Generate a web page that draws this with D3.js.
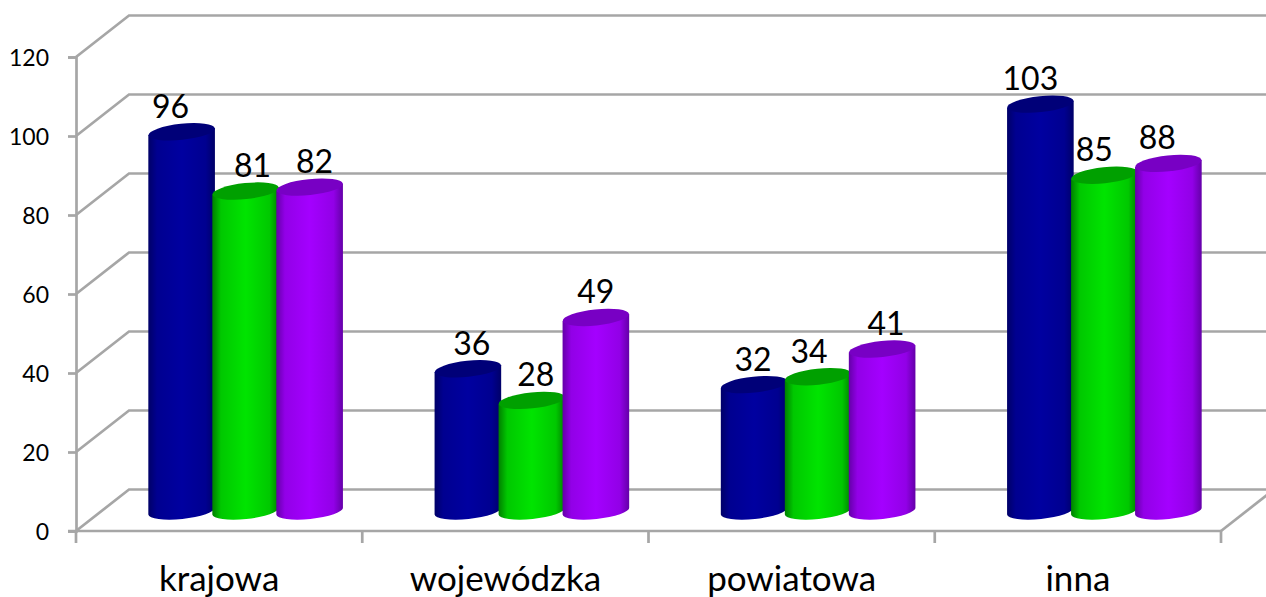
<!DOCTYPE html>
<meta charset="utf-8">
<title>Wykres</title>
<head>
  <script src="https://d3js.org/d3.v7.min.js"></script>
  <style>
    body { margin: 0; background: #fff; }
    svg { display: block; }
    text { font-family: Lato, "Open Sans", sans-serif; fill: #000; }
  </style>
</head>
<body>
  <div id="chart"></div>
</body>
<script>
    // values
    const categories = ["krajowa", "wojewódzka", "powiatowa", "inna"];
    const seriesNames = ["a", "b", "c"];
    const seriesA = [96, 36, 32, 103];
    const seriesB = [81, 28, 34, 85];
    const seriesC = [82, 49, 41, 88];
    const yTicks = [0, 20, 40, 60, 80, 100, 120];

    // colours per series: edge, body, top cap
    const edgeColors = ["#000068", "#008000", "#6400a8"];
    const bodyColors = ["#0000a0", "#00e400", "#a400ff"];
    const capColors = ["#000078", "#00a000", "#7800c4"];

    // data labels were hand placed in the original, horizontal nudge in px
    const labelNudge = [
      [-11, 4, -1, -10],
      [7, 4, -9, -10],
      [5, 0, 4, -11]
    ];

    const width = 1266, height = 597;
    const depthX = 53, depthY = 41.5;   // back wall offset of the fake 3d box
    const barLift = 20;                 // bars stand about halfway into the box
    const rx = 33.3, ry = 8, tilt = -6;
    const gridColor = "#a6a6a6";
    const gridWidth = 2.7;

    const svg = d3.select("#chart").append("svg")
        .attr("width", width)
        .attr("height", height);

    const x = d3.scaleBand().domain(categories).range([76, 1221]);
    const y = d3.scaleLinear().domain([0, 120]).range([531, 57]);
    const inner = d3.scaleBand().domain(seriesNames).range([-96, 96]);

    // gradients for the cylinder sides
    const defs = svg.append("defs");
    seriesNames.forEach(function(s, i) {
      const g = defs.append("linearGradient").attr("id", "body-" + s);
      const mix = d3.interpolateRgb(edgeColors[i], bodyColors[i])(0.72);
      [[0, edgeColors[i]], [0.13, mix], [0.5, bodyColors[i]], [0.86, mix], [1, edgeColors[i]]].forEach(function(st) {
        g.append("stop").attr("offset", st[0]).attr("stop-color", st[1]);
      });
    });

    // grid: front edge to back wall, then along the wall
    const grid = svg.append("g")
        .attr("fill", "none")
        .attr("stroke", gridColor)
        .attr("stroke-width", gridWidth);
    grid.selectAll("path.wall")
      .data(yTicks)
      .enter().append("path")
        .attr("class", "wall")
        .attr("d", function(d) {
          return d3.line()([
            [x.range()[0], y(d)],
            [x.range()[0] + depthX, y(d) - depthY],
            [width, y(d) - depthY]
          ]);
        });
    grid.append("path")
        .attr("d", d3.line()([
          [x.range()[1], y(0)],
          [x.range()[1] + depthX, y(0) - depthY]
        ]));

    // y axis
    const yAxis = svg.append("g")
        .attr("transform", "translate(" + x.range()[0] + ",0)")
        .call(d3.axisLeft(y).tickValues(yTicks).tickSize(8).tickPadding(19));
    yAxis.selectAll("line, path").attr("stroke", gridColor).attr("stroke-width", gridWidth);
    yAxis.selectAll("text").attr("font-size", 23).attr("dy", "0.36em");

    // x axis, the ticks sit between the categories
    const xAxis = svg.append("g")
        .attr("transform", "translate(0," + y(0) + ")")
        .call(d3.axisBottom(x).tickSize(0).tickPadding(35));
    xAxis.select("path").remove();
    xAxis.selectAll("text").attr("font-size", 35).attr("dy", "0.71em");
    xAxis.selectAll("line.sep")
      .data(categories.map(function(c) { return x(c); }).concat(x.range()[1]))
      .enter().append("line")
        .attr("class", "sep")
        .attr("x1", function(d) { return d; })
        .attr("x2", function(d) { return d; })
        .attr("y1", 0)
        .attr("y2", 12)
        .attr("stroke", gridColor)
        .attr("stroke-width", gridWidth);
    xAxis.append("line")
        .attr("x1", x.range()[0] - 8)
        .attr("x2", x.range()[1])
        .attr("stroke", gridColor)
        .attr("stroke-width", gridWidth);

    const barX = function(c, s) { return x(c) + x.bandwidth() / 2 + depthX / 2 + inner(s) + inner.bandwidth() / 2; };
    const barY = function(v) { return y(v) - barLift; };
    const dyTilt = rx * Math.sin(-tilt * Math.PI / 180);

    const allSeries = [seriesA, seriesB, seriesC];
    const bars = svg.append("g");
    allSeries.forEach(function(values, si) {
      const s = seriesNames[si];
      const group = bars.append("g");
      group.selectAll("path.side")
        .data(values)
        .enter().append("path")
          .attr("class", "side")
          .attr("fill", "url(#body-" + s + ")")
          .attr("d", function(d, i) {
            const cx = barX(categories[i], s), top = barY(d), base = barY(0);
            return "M" + (cx - rx) + "," + (top + dyTilt)
              + "L" + (cx - rx) + "," + (base + dyTilt)
              + "A" + rx + "," + ry + " " + tilt + " 0 0 " + (cx + rx) + "," + (base - dyTilt)
              + "L" + (cx + rx) + "," + (top - dyTilt) + "Z";
          });
      group.selectAll("ellipse.cap")
        .data(values)
        .enter().append("ellipse")
          .attr("class", "cap")
          .attr("rx", rx)
          .attr("ry", ry)
          .attr("fill", capColors[si])
          .attr("transform", function(d, i) {
            return "translate(" + barX(categories[i], s) + "," + barY(d) + ") rotate(" + tilt + ")";
          });
    });

    // data labels on top of everything
    allSeries.forEach(function(values, si) {
      const s = seriesNames[si];
      svg.append("g").selectAll("text")
        .data(values)
        .enter().append("text")
          .attr("text-anchor", "middle")
          .attr("font-size", 32)
          .attr("x", function(d, i) { return barX(categories[i], s) + labelNudge[si][i]; })
          .attr("y", function(d) { return barY(d) - 14; })
          .text(function(d) { return d; });
    });
</script>
